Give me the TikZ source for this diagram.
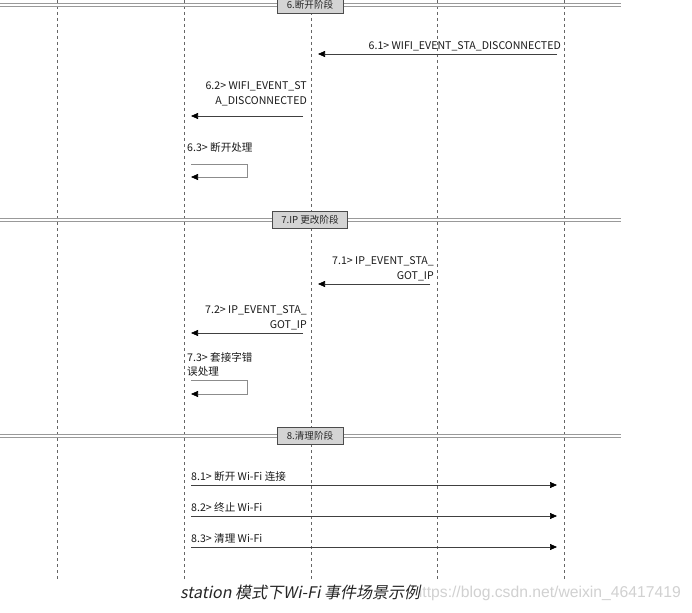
\documentclass[tikz,border=0pt]{standalone}
\usepackage{fontspec}
\setmainfont{Noto Sans CJK SC}
\newfontfamily\capfont[FakeSlant=0.2]{Noto Sans CJK SC}
\newfontfamily\wmfont{Liberation Sans}
\usetikzlibrary{arrows.meta}
\begin{document}
\begin{tikzpicture}[x=1pt,y=-1pt,
  lifeline/.style={draw=black!60,dash pattern=on 3pt off 3pt,line width=0.6pt},
  sepline/.style={draw=black!40,line width=0.9pt},
  phasebox/.style={draw=black!70,fill=black!17,line width=0.8pt,inner sep=0pt,minimum height=17pt,font=\fontsize{9.6}{10}\selectfont,text=black!85},
  msg/.style={draw=black!75,line width=0.7pt,-{Triangle[length=7pt,width=6pt,color=black]}},
  selfmsg/.style={draw=black!45,line width=0.7pt,-{Triangle[length=7pt,width=6pt,color=black]}},
  lbl/.style={inner sep=0pt,font=\fontsize{10.6}{14.5}\selectfont,text=black!90}]
\useasboundingbox (0,0) rectangle (692,612);
\fill[white] (0,0) rectangle (692,612);
% lifelines
\foreach \n/\x in {1/57,2/184,3/311,4/437,5/564}{
  \coordinate (L\n t) at (\x,0);
  \coordinate (L\n b) at (\x,580);
  \draw[lifeline] (L\n t) -- (L\n b);
}
% phase separators
\foreach \n/\y/\w/\t in {6/4.5/66/6.断开阶段,7/219.5/75/7.IP 更改阶段,8/435.5/66/8.清理阶段}{
  \coordinate (S\n a) at (0,\y-1.5);
  \coordinate (S\n b) at (621,\y-1.5);
  \coordinate (S\n c) at (0,\y+1.5);
  \coordinate (S\n d) at (621,\y+1.5);
  \draw[sepline] (S\n a) -- (S\n b);
  \draw[sepline] (S\n c) -- (S\n d);
  \node[phasebox,minimum width=\w pt] (P\n) at (310,\y) {\t};
}
% 6.1
\coordinate (m61s) at (557,54); \coordinate (m61e) at (318,54);
\draw[msg] (m61s) -- (m61e);
\node[lbl,anchor=south east] (t61) at (561,51) {6.1> WIFI\_EVENT\_STA\_DISCONNECTED};
% 6.2
\coordinate (m62s) at (303,116); \coordinate (m62e) at (191,116);
\draw[msg] (m62s) -- (m62e);
\node[lbl,anchor=south east,align=right] (t62) at (307,106) {6.2> WIFI\_EVENT\_ST\\A\_DISCONNECTED};
% 6.3
\coordinate (m63a) at (191,164); \coordinate (m63b) at (247,164);
\coordinate (m63c) at (247,177); \coordinate (m63d) at (191,177);
\draw[selfmsg] (m63a) -- (m63b) -- (m63c) -- (m63d);
\node[lbl,anchor=south west] (t63) at (187,153) {6.3> 断开处理};
% 7.1
\coordinate (m71s) at (430,284); \coordinate (m71e) at (318,284);
\draw[msg] (m71s) -- (m71e);
\node[lbl,anchor=south east,align=right] (t71) at (434,281) {7.1> IP\_EVENT\_STA\_\\GOT\_IP};
% 7.2
\coordinate (m72s) at (303,333); \coordinate (m72e) at (191,333);
\draw[msg] (m72s) -- (m72e);
\node[lbl,anchor=south east,align=right] (t72) at (307,330) {7.2> IP\_EVENT\_STA\_\\GOT\_IP};
% 7.3
\coordinate (m73a) at (191,380); \coordinate (m73b) at (247,380);
\coordinate (m73c) at (247,394); \coordinate (m73d) at (191,394);
\draw[selfmsg] (m73a) -- (m73b) -- (m73c) -- (m73d);
\node[lbl,anchor=south west,align=left] (t73) at (187,377) {7.3> 套接字错\\误处理};
% 8.x
\foreach \n/\y/\t in {1/485/断开 Wi-Fi 连接,2/516/终止 Wi-Fi,3/547/清理 Wi-Fi}{
  \coordinate (m8\n s) at (191,\y); \coordinate (m8\n e) at (557,\y);
  \draw[msg] (m8\n s) -- (m8\n e);
  \node[lbl,anchor=south west] (t8\n) at (191,\y-3) {8.\n> \t};
}
% caption
\node[anchor=east,inner sep=0pt,font=\wmfont\fontsize{15.7}{16}\selectfont,text=black!18] (wm) at (681,593) {https://blog.csdn.net/weixin\_46417419};
\node[anchor=west,inner sep=0pt,fill=white,font=\capfont\fontsize{16}{17}\selectfont,text=black!85] (cap) at (180,592) {station 模式下Wi-Fi 事件场景示例};
\end{tikzpicture}
\end{document}
